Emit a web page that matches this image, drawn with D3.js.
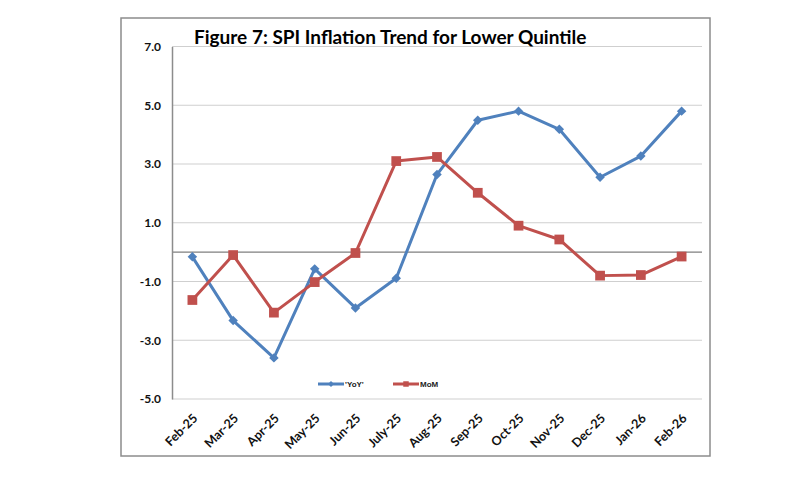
<!DOCTYPE html>
<html><head><meta charset="utf-8">
<script src="https://cdn.jsdelivr.net/npm/d3@7"></script>
<style>body{margin:0;background:#fff;}svg{display:block;}</style>
</head><body>
<svg id="c" width="800" height="480"></svg>
<script>
const categories = ["Feb-25","Mar-25","Apr-25","May-25","Jun-25","July-25","Aug-25","Sep-25","Oct-25","Nov-25","Dec-25","Jan-26","Feb-26"];
const yoyValues = [-0.16,-2.33,-3.6,-0.57,-1.9,-0.89,2.64,4.49,4.8,4.18,2.55,3.27,4.8];
const momValues = [-1.63,-0.1,-2.06,-1.02,-0.03,3.1,3.24,2.02,0.9,0.43,-0.8,-0.78,-0.15];
const yTicks = [7,5,3,1,-1,-3,-5];
const seriesNames = ["'YoY'","MoM"];
const titleText = "Figure 7: SPI Inflation Trend for Lower Quintile";

const svg = d3.select("#c");
const blue = "#4F81BD", red = "#C0504D";
const labelFont = "Lato, Carlito, Calibri, sans-serif";

// outer frame
svg.append("rect").attr("x",121).attr("y",18).attr("width",589).attr("height",438)
  .attr("fill","#fff").attr("stroke","#8c8c8c").attr("stroke-width",1.5);

const x = d3.scaleBand().domain(categories).range([172,702]).padding(0);
const y = d3.scaleLinear().domain([-5,7]).range([399,46.5]);

// gridlines
svg.append("g").selectAll("line").data(yTicks).join("line")
  .attr("x1",172).attr("x2",702)
  .attr("y1",d=>y(d)).attr("y2",d=>y(d))
  .attr("stroke","#cfcfcf").attr("stroke-width",1.2);
// zero line
svg.append("line").attr("x1",172).attr("x2",702).attr("y1",y(0)).attr("y2",y(0))
  .attr("stroke","#7f7f7f").attr("stroke-width",1.2);

// y axis
const yAxis = d3.axisLeft(y).tickValues(yTicks).tickFormat(d=>d.toFixed(1)).tickSize(0).tickPadding(11);
const gy = svg.append("g").attr("transform","translate(172,0)").call(yAxis);
gy.select(".domain").attr("stroke","#8c8c8c").attr("stroke-width",1.5);
gy.selectAll("text").attr("font-family",labelFont).attr("font-weight","bold")
  .attr("font-size",12).attr("fill","#111");

// x labels
const xAxis = d3.axisBottom(x).tickSize(0).tickPadding(0);
const gx = svg.append("g").attr("transform","translate(0,399)").call(xAxis);
gx.select(".domain").remove();
gx.selectAll("text")
  .attr("font-family",labelFont).attr("font-weight","bold").attr("font-size",12.5).attr("fill","#111")
  .attr("text-anchor","end").attr("dy",null).attr("y",0)
  .attr("transform","translate(6,20) rotate(-45)");

// title
svg.append("text").attr("x",194).attr("y",44).text(titleText)
  .attr("font-family",labelFont).attr("font-weight","bold")
  .attr("font-size",19).attr("fill","#000");

const cx = i => x(categories[i]) + x.bandwidth()/2;
const line = d3.line().x((d,i)=>cx(i)).y(d=>y(d));

function drawSeries(vals,color,isDiamond){
  svg.append("path").datum(vals).attr("d",line).attr("fill","none")
    .attr("stroke",color).attr("stroke-width",3).attr("stroke-linejoin","round");
  svg.append("g").selectAll("path").data(vals).join("path")
    .attr("transform",(d,i)=>`translate(${cx(i)},${y(d)})${isDiamond?" rotate(45)":""}`)
    .attr("d",d3.symbol().type(d3.symbolSquare).size(isDiamond?45:95)())
    .attr("fill",color);
}
drawSeries(yoyValues,blue,true);
drawSeries(momValues,red,false);

// legend
const legend = [{name:seriesNames[0],color:blue,dia:true,size:18,x0:318},
                {name:seriesNames[1],color:red,dia:false,size:30,x0:393}];
const lg = svg.append("g");
legend.forEach(l=>{
  lg.append("line").attr("x1",l.x0).attr("x2",l.x0+26).attr("y1",384).attr("y2",384)
    .attr("stroke",l.color).attr("stroke-width",3);
  lg.append("path").attr("transform",`translate(${l.x0+13},384)${l.dia?" rotate(45)":""}`)
    .attr("d",d3.symbol().type(d3.symbolSquare).size(l.size)()).attr("fill",l.color);
  lg.append("text").attr("x",l.x0+27).attr("y",387).text(l.name)
    .attr("font-family","Liberation Sans, Arial").attr("font-size",8).attr("font-weight","bold").attr("fill","#222");
});
</script>
</body></html>
